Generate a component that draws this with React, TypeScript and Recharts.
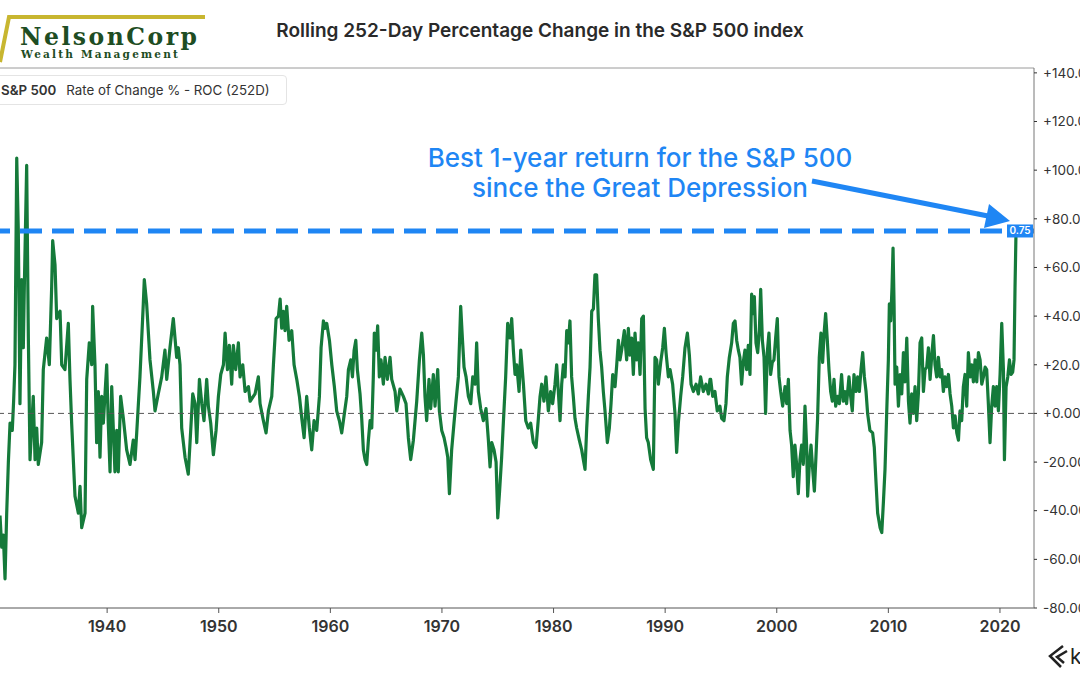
import { LineChart, Line, XAxis, YAxis, ReferenceLine } from "recharts";

// decimal year of each reading
const dates = [
  1930.40, 1930.55, 1930.70, 1930.85, 1931.00, 1931.15, 1931.30, 1931.50, 1931.62, 1931.74,
  1931.90, 1932.04, 1932.19, 1932.34, 1932.49, 1932.58, 1932.79, 1932.94, 1933.09, 1933.38,
  1933.54, 1933.69, 1933.83, 1934.13, 1934.28, 1934.58, 1934.82, 1935.03, 1935.12, 1935.33,
  1935.48, 1935.78, 1935.93, 1936.22, 1936.52, 1936.67, 1936.82, 1937.12, 1937.42, 1937.57,
  1937.72, 1938.02, 1938.17, 1938.40, 1938.62, 1938.70, 1938.91, 1939.06, 1939.21, 1939.36,
  1939.51, 1939.66, 1939.96, 1940.10, 1940.26, 1940.41, 1940.70, 1940.86, 1941.00, 1941.21,
  1941.45, 1941.75, 1942.05, 1942.34, 1942.50, 1942.65, 1942.94, 1943.24, 1943.33, 1943.54,
  1943.84, 1944.14, 1944.29, 1944.58, 1944.89, 1945.18, 1945.34, 1945.63, 1945.93, 1946.08,
  1946.23, 1946.38, 1946.53, 1946.68, 1946.98, 1947.27,
  1947.67, 1947.88, 1948.03, 1948.27, 1948.48, 1948.68, 1948.92, 1949.07, 1949.28, 1949.52,
  1949.76, 1949.97, 1950.18, 1950.42, 1950.57, 1950.78, 1950.95, 1951.16, 1951.31, 1951.52,
  1951.76, 1951.91, 1952.15, 1952.36, 1952.66, 1952.81, 1953.25, 1953.55, 1953.70, 1954.00,
  1954.24, 1954.45, 1954.75, 1954.90, 1955.14, 1955.35, 1955.50, 1955.64, 1955.79, 1955.94,
  1956.09, 1956.30, 1956.54, 1956.75, 1956.99, 1957.23, 1957.44, 1957.65, 1957.88, 1958.12,
  1958.33, 1958.54, 1958.78, 1959.02, 1959.17, 1959.38, 1959.53, 1959.68, 1959.92, 1960.13,
  1960.36, 1960.57, 1960.81, 1961.02, 1961.23, 1961.47, 1961.62, 1961.83, 1961.98, 1962.13,
  1962.28, 1962.42,
  1962.66, 1962.81, 1962.96, 1963.11, 1963.26, 1963.41, 1963.56, 1963.71, 1963.85, 1963.94,
  1964.09, 1964.24, 1964.39, 1964.54, 1964.75, 1964.90, 1965.11, 1965.35, 1965.50, 1965.80,
  1965.95, 1966.24, 1966.54, 1966.78, 1966.99, 1967.20, 1967.44, 1967.74, 1967.98, 1968.19,
  1968.34, 1968.48, 1968.63, 1968.84, 1968.99, 1969.23, 1969.38, 1969.62, 1969.77, 1969.98,
  1970.19, 1970.37, 1970.52, 1970.67, 1970.87, 1971.08, 1971.26, 1971.47, 1971.68, 1971.83,
  1971.98, 1972.16, 1972.37, 1972.58, 1972.76, 1972.97, 1973.11, 1973.26, 1973.47, 1973.71,
  1973.95, 1974.16, 1974.31, 1974.46, 1974.67, 1974.85, 1975.00, 1975.15, 1975.35, 1975.50,
  1975.71, 1975.89, 1976.10, 1976.25, 1976.40, 1976.55, 1976.70, 1976.91, 1977.06, 1977.30,
  1977.51, 1977.74, 1977.95, 1978.19, 1978.43, 1978.64, 1978.79,
  1978.94, 1979.14, 1979.32, 1979.53, 1979.74, 1979.92, 1980.13, 1980.28, 1980.43, 1980.58,
  1980.73, 1980.88, 1981.03, 1981.18, 1981.33, 1981.47, 1981.62, 1981.77, 1981.92, 1982.07,
  1982.31, 1982.52, 1982.67, 1982.82, 1982.97, 1983.12, 1983.27, 1983.42, 1983.57, 1983.71,
  1983.86, 1984.01, 1984.16, 1984.31, 1984.46, 1984.61, 1984.82, 1985.00, 1985.15, 1985.30,
  1985.51, 1985.66, 1985.81, 1985.95, 1986.10, 1986.34, 1986.55, 1986.70, 1986.85, 1987.00,
  1987.15, 1987.30, 1987.45, 1987.60, 1987.75, 1987.90, 1988.05, 1988.20, 1988.34, 1988.49,
  1988.70, 1988.94, 1989.09, 1989.24, 1989.39, 1989.60, 1989.78, 1989.93, 1990.08, 1990.29,
  1990.44, 1990.67, 1990.88, 1991.03, 1991.18, 1991.39, 1991.57, 1991.78, 1991.99, 1992.17,
  1992.32, 1992.53, 1992.77, 1992.97, 1993.18, 1993.42, 1993.66, 1993.87, 1994.02,
  1994.08, 1994.26, 1994.46, 1994.67, 1994.91, 1995.06, 1995.27, 1995.45, 1995.57, 1995.75,
  1995.96, 1996.11, 1996.26, 1996.41, 1996.56, 1996.70, 1996.85, 1997.00, 1997.15, 1997.30,
  1997.45, 1997.60, 1997.75, 1997.90, 1997.99, 1998.14, 1998.29, 1998.44, 1998.56, 1998.71,
  1998.86, 1999.00, 1999.15, 1999.30, 1999.45, 1999.60, 1999.75, 1999.90, 2000.05, 2000.20,
  2000.35, 2000.53, 2000.74, 2000.89, 2001.04, 2001.19, 2001.33, 2001.48, 2001.63, 2001.78,
  2001.93, 2002.08, 2002.23, 2002.38, 2002.53, 2002.68, 2002.77, 2002.92, 2003.07, 2003.22,
  2003.37, 2003.51, 2003.66, 2003.81, 2003.96, 2004.11, 2004.26, 2004.38, 2004.53, 2004.68,
  2004.83, 2004.98, 2005.13, 2005.28, 2005.46, 2005.61, 2005.81, 2005.96, 2006.11, 2006.26,
  2006.47, 2006.62, 2006.77, 2006.92, 2007.10, 2007.25, 2007.40, 2007.55, 2007.70, 2007.85,
  2008.00, 2008.14, 2008.35, 2008.59, 2008.74, 2008.89, 2009.04, 2009.19,
  2009.26, 2009.41, 2009.55, 2009.70, 2009.85, 2010.00, 2010.09, 2010.21, 2010.33, 2010.42,
  2010.51, 2010.60, 2010.75, 2010.90, 2011.05, 2011.20, 2011.35, 2011.50, 2011.65, 2011.80,
  2011.94, 2012.09, 2012.24, 2012.39, 2012.54, 2012.69, 2012.84, 2012.99, 2013.14, 2013.29,
  2013.44, 2013.59, 2013.74, 2013.89, 2014.04, 2014.18, 2014.33, 2014.48, 2014.63, 2014.78,
  2014.93, 2015.08, 2015.23, 2015.38, 2015.53, 2015.68, 2015.83, 2015.98, 2016.13, 2016.28,
  2016.42, 2016.57, 2016.72, 2016.87, 2017.02, 2017.17, 2017.32, 2017.47, 2017.62, 2017.77,
  2017.92, 2018.07, 2018.22, 2018.37, 2018.52, 2018.67, 2018.81, 2018.96, 2019.11, 2019.26,
  2019.41, 2019.56, 2019.71, 2019.86, 2020.01, 2020.16, 2020.31, 2020.40, 2020.55, 2020.70,
  2020.85, 2021.00, 2021.14, 2021.26, 2021.35, 2021.44,
];

// rolling 252-day rate of change, %
const rocValues = [
  -42, -55, -50, -68, -41, -20, -4, -7, 5, 20,
  105, 75, 4, 55, 27, 52, 102, 31, -19, 7,
  -19, -6, -21, -12, 18, 31, 20, 52, 71, 61,
  39, 42, 20, 18, 37, 14, -4, -34, -41, -30,
  -47, -41, 14, 29, 20, 44, 20, -12, 9, -18,
  7, -4, 20, -4, -24, 11, -24, -7, -24, 7,
  -2, -15, -21, -11, -19, -8, 15, 45, 55, 45,
  22, 9, 1, 8, 15, 26, 14, 27, 39, 31,
  23, 27, 20, -6, -18, -25,
  8, 4, -12, 14, 4, -3, 14, 3, -4, -17,
  -7, 7, 16, 20, 33, 18, 28, 12, 28, 18,
  29, 15, 20, 9, 11, 5, 8, 15, 4, -3,
  -8, 1, 7, 20, 39, 40, 47, 35, 42, 34,
  44, 30, 34, 20, 14, 7, -2, -10, 7, -6,
  -15, -3, -7, 7, 27, 38, 35, 37, 30, 20,
  11, 1, -3, -8, -1, 7, 18, 22, 15, 26,
  30, 18,
  8, -2, -15, -19, -21, -11, -3, -6, 15, 33,
  26, 36, 15, 22, 12, 23, 14, 23, 14, 9,
  1, 10, 7, 4, -10, -19, -11, 5, 22, 33,
  24, 7, -3, 14, 2, 16, 3, 18, 1, -7,
  -10, -14, -18, -33, -15, -4, 5, 15, 44, 31,
  19, 15, 7, 4, 15, 12, 29, 9, 2, -3,
  2, -11, -22, -12, -15, -20, -43, -33, -18, -4,
  15, 37, 31, 39, 26, 16, 20, 9, 26, 12,
  -3, -6, -4, -12, -14, -2, 7,
  12, 5, 15, 1, 9, 4, 12, 20, 9, -3,
  12, 20, 15, 34, 29, 38, 15, 7, -2, -6,
  -11, -15, -19, -23, -6, 7, 19, 42, 43, 57,
  57, 39, 26, 19, 9, 1, -12, -6, 4, 16,
  11, 20, 30, 22, 26, 34, 22, 35, 24, 31,
  16, 33, 22, 29, 16, 39, 40, 2, -10, -12,
  -19, -23, 23, 22, 12, 21, 27, 35, 25, 15,
  18, 12, 0, -16, -4, 7, 15, 27, 33, 24,
  12, 9, 12, 8, 15, 9, 12, 8, 14,
  14, 7, 9, 1, 3, -2, -3, 4, 15, 23,
  29, 37, 38, 30, 26, 23, 12, 21, 26, 18,
  28, 16, 49, 41, 48, 29, 25, 34, 51, 30,
  23, 0, 25, 33, 16, 21, 22, 31, 39, 15,
  9, 3, 11, 4, 14, -7, -13, -26, -13, -21,
  -33, -19, -13, -21, 3, -14, -34, -21, -13, -23,
  -32, -18, -2, 23, 33, 21, 34, 41, 30, 18,
  9, 5, 14, 3, 7, 4, 16, 5, 9, 4,
  15, 7, 1, 16, 9, 15, 9, 18, 25, 15,
  9, 0, -7, -8, -14, -28, -41, -45,
  -47, -49, -37, -23, 0, 22, 45, 38, 52, 68,
  45, 12, 19, 3, 16, 8, 25, 13, 31, 5,
  -4, 8, 0, 11, -3, 8, 29, 31, 9, 18,
  19, 27, 14, 24, 32, 20, 15, 23, 15, 18,
  9, 15, 11, 16, 8, 3, -6, -1, -8, -11,
  1, -3, 11, 16, 3, 25, 15, 20, 13, 22,
  13, 25, 22, 12, 15, 19, 18, 4, -12, 3,
  11, 3, 11, 1, 16, 37, 18, -19, 11, 15,
  22, 16, 17, 22, 52, 75,
];

const yearTicks = [1940, 1950, 1960, 1970, 1980, 1990, 2000, 2010, 2020];
const pctTicks = [-80, -60, -40, -20, 0, 20, 40, 60, 80, 100, 120, 140];
const bestReturn = 75;

const data = dates.map((t, i) => ({ t, roc: rocValues[i] }));
const lastRoc = rocValues[rocValues.length - 1];

const BLUE = "#1f86f4";
const GREEN = "#157a3a";
const FONT = "Inter, 'Open Sans', Roboto, sans-serif";

function fmtPct(v: number) {
  return (v >= 0 ? "+" : "") + v.toFixed(2);
}

// small blue tag at the right end of the dashed line
function LastValueTag(props: any) {
  const vb = props.viewBox;
  if (!vb) return null;
  const w = 26;
  const h = 13;
  const x = vb.x + vb.width - w - 1;
  const y = vb.y - h / 2;
  return (
    <g>
      <rect x={x} y={y} width={w} height={h} fill={BLUE} />
      <text x={x + w / 2} y={y + h / 2} dy="0.35em" textAnchor="middle" fill="#fff" fontSize={10} fontWeight={600}>
        {(lastRoc / 100).toFixed(2)}
      </text>
    </g>
  );
}

export default function App() {
  return (
    <div
      style={{
        position: "absolute",
        left: 0,
        top: 0,
        width: 1080,
        height: 675,
        overflow: "hidden",
        background: "#fff",
        fontFamily: FONT,
      }}
    >
      <LineChart width={1080} height={675} data={data} margin={{ top: 68, right: 0, bottom: 0, left: 0 }}>
        <ReferenceLine y={142} stroke="#9a9a9a" strokeWidth={1} />
        <XAxis
          dataKey="t"
          type="number"
          domain={[1930.4, 2023.05]}
          allowDataOverflow
          ticks={yearTicks}
          interval={0}
          height={67}
          tickSize={5}
          tickMargin={8}
          axisLine={{ stroke: "#555" }}
          tickLine={{ stroke: "#555" }}
          tick={{ fill: "#333", fontSize: 16, fontWeight: 600 }}
        />
        <YAxis
          orientation="right"
          type="number"
          domain={[-80, 142]}
          allowDataOverflow
          ticks={pctTicks}
          interval={0}
          width={46}
          tickSize={3}
          tickMargin={6}
          tickFormatter={fmtPct}
          axisLine={{ stroke: "#777" }}
          tickLine={{ stroke: "#333" }}
          tick={{ fill: "#333", fontSize: 13.5 }}
        />
        <Line
          dataKey="roc"
          type="linear"
          stroke={GREEN}
          strokeWidth={3.2}
          strokeLinejoin="round"
          dot={false}
          activeDot={false}
          isAnimationActive={false}
        />
        <ReferenceLine y={0} stroke="#555" strokeDasharray="6 4" />
        <ReferenceLine
          y={bestReturn}
          stroke={BLUE}
          strokeWidth={5}
          strokeDasharray="22 10"
          label={(p: any) => <LastValueTag {...p} />}
        />
      </LineChart>

      {/* logo */}
      <svg width={220} height={70} style={{ position: "absolute", left: 0, top: 0 }}>
        <polyline points="0,62 9,17 205,17" fill="none" stroke="#c8b630" strokeWidth={4} />
        <text x={20} y={45} fontFamily="'DejaVu Serif', serif" fontWeight={700} fontSize={23.5} letterSpacing={2.5} fill="#1e4d23">
          NelsonCorp
        </text>
        <text x={21} y={58} fontFamily="'DejaVu Serif', serif" fontWeight={700} fontSize={10.5} letterSpacing={2.2} fill="#1e4d23">
          Wealth Management
        </text>
      </svg>

      <div
        style={{
          position: "absolute",
          top: 19,
          left: 0,
          width: 1080,
          textAlign: "center",
          fontSize: 19,
          fontWeight: 600,
          color: "#2a2a2a",
          lineHeight: "24px",
        }}
      >
        Rolling 252-Day Percentage Change in the S&amp;P 500 index
      </div>

      <div
        style={{
          position: "absolute",
          left: -12,
          top: 75,
          height: 28,
          padding: "0 16px 0 12px",
          display: "flex",
          alignItems: "center",
          border: "1px solid #e4e4e4",
          borderRadius: 4,
          background: "#fff",
          fontSize: 13.3,
          color: "#333",
          whiteSpace: "nowrap",
        }}
      >
        <span style={{ fontWeight: 600 }}>S&amp;P 500</span>
        <span style={{ marginLeft: 10 }}>Rate of Change % - ROC (252D)</span>
      </div>

      <div
        style={{
          position: "absolute",
          left: 340,
          top: 143,
          width: 600,
          textAlign: "center",
          fontSize: 26,
          lineHeight: "30px",
          fontWeight: 500,
          color: BLUE,
        }}
      >
        Best 1-year return for the S&amp;P 500
        <br />
        since the Great Depression
      </div>

      {/* arrow + koyfin mark */}
      <svg width={1080} height={675} style={{ position: "absolute", left: 0, top: 0, pointerEvents: "none" }}>
        <line x1={812} y1={181} x2={988} y2={216} stroke={BLUE} strokeWidth={5} />
        <polygon points="1010,221 989,204 984,228" fill={BLUE} />
        <path d="M1063 646 L1050 656 L1061 667" fill="none" stroke="#222" strokeWidth={2.5} />
        <path d="M1067 651 L1057 657 L1064 663" fill="none" stroke="#222" strokeWidth={2.5} />
        <text x={1070} y={664} fontSize={21} fill="#222" fontFamily={FONT}>
          k
        </text>
      </svg>
    </div>
  );
}
